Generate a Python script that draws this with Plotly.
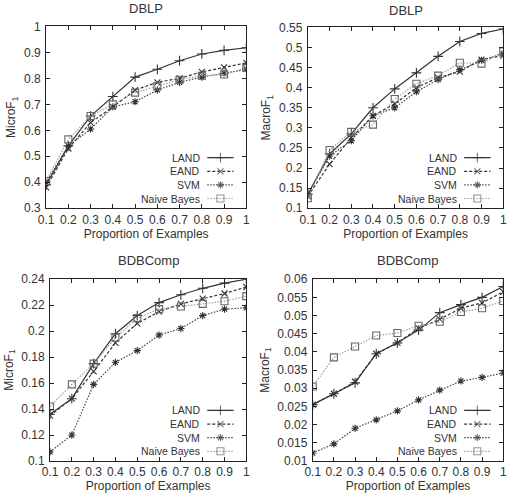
import plotly.graph_objects as go

proportions = [0.1, 0.2, 0.3, 0.4, 0.5, 0.6, 0.7, 0.8, 0.9, 1.0]
methods = ["LAND", "EAND", "SVM", "Naive Bayes"]

dblp_micro = {
    "LAND": [0.39, 0.54, 0.655, 0.73, 0.805, 0.835, 0.868, 0.894, 0.908, 0.918],
    "EAND": [0.38, 0.53, 0.63, 0.69, 0.755, 0.785, 0.80, 0.825, 0.842, 0.86],
    "SVM": [0.40, 0.54, 0.605, 0.69, 0.71, 0.755, 0.785, 0.805, 0.82, 0.835],
    "Naive Bayes": [0.405, 0.565, 0.655, 0.70, 0.745, 0.77, 0.795, 0.81, 0.815, 0.84],
}
dblp_macro = {
    "LAND": [0.135, 0.235, 0.285, 0.35, 0.397, 0.437, 0.478, 0.515, 0.535, 0.546],
    "EAND": [0.13, 0.21, 0.275, 0.33, 0.36, 0.40, 0.425, 0.44, 0.47, 0.48],
    "SVM": [0.135, 0.23, 0.268, 0.33, 0.35, 0.39, 0.42, 0.445, 0.468, 0.485],
    "Naive Bayes": [0.125, 0.245, 0.29, 0.308, 0.372, 0.41, 0.43, 0.462, 0.46, 0.49],
}
bdb_micro = {
    "LAND": [0.136, 0.148, 0.175, 0.198, 0.212, 0.222, 0.228, 0.233, 0.237, 0.24],
    "EAND": [0.135, 0.148, 0.169, 0.191, 0.206, 0.215, 0.221, 0.225, 0.229, 0.234],
    "SVM": [0.107, 0.12, 0.159, 0.176, 0.185, 0.197, 0.202, 0.212, 0.217, 0.218],
    "Naive Bayes": [0.142, 0.159, 0.175, 0.195, 0.21, 0.217, 0.219, 0.221, 0.223, 0.227],
}
bdb_macro = {
    "LAND": [0.0255, 0.0285, 0.0315, 0.0395, 0.0425, 0.046, 0.0508, 0.053, 0.055, 0.058],
    "EAND": [0.0255, 0.0285, 0.0318, 0.0395, 0.0425, 0.0465, 0.049, 0.052, 0.0535, 0.0565],
    "SVM": [0.0122, 0.0147, 0.019, 0.0213, 0.0238, 0.0268, 0.0295, 0.032, 0.033, 0.0342],
    "Naive Bayes": [0.0305, 0.0385, 0.0415, 0.0445, 0.0452, 0.0472, 0.0483, 0.051, 0.052, 0.054],
}

W, H = 517, 503
# panel boxes in pixels: (left, right, top, bottom)
panels = [
    dict(title="DBLP", ytitle="MicroF<sub>1</sub>", data=dblp_micro,
         yrange=[0.3, 1.0], ytick=0.1, box=(39, 244, 20, 207), tshift=8),
    dict(title="DBLP", ytitle="MacroF<sub>1</sub>", data=dblp_macro,
         yrange=[0.1, 0.55], ytick=0.05, box=(307, 507, 21, 207), tshift=7),
    dict(title="BDBComp", ytitle="MicroF<sub>1</sub>", data=bdb_micro,
         yrange=[0.1, 0.24], ytick=0.02, box=(43, 244, 280, 467), tshift=9),
    dict(title="BDBComp", ytitle="MacroF<sub>1</sub>", data=bdb_macro,
         yrange=[0.01, 0.06], ytick=0.005, box=(312, 507, 280, 467), tshift=9),
]

styles = {
    "LAND": dict(color="#333333", dash="solid", symbol="cross-thin-open", size=7, mcolor="#333333"),
    "EAND": dict(color="#333333", dash="3px,2px", symbol="x-thin-open", size=6, mcolor="#333333"),
    "SVM": dict(color="#444444", dash="1.5px,1.5px", symbol="asterisk-open", size=6, mcolor="#333333"),
    "Naive Bayes": dict(color="#a0a0a0", dash="1.5px,1.5px", symbol="square-open", size=7, mcolor="#666666"),
}

FONT = "Liberation Sans, Arial, sans-serif"
TXT = "#333333"
fig = go.Figure()
layout = dict(
    width=W, height=H, margin=dict(l=0, r=0, t=0, b=0),
    paper_bgcolor="white", plot_bgcolor="rgba(0,0,0,0)",
    font=dict(family=FONT, size=11, color=TXT),
    showlegend=False,
    annotations=[],
)

for i, p in enumerate(panels):
    n = i + 1
    L, R, T, B = p["box"]
    xdom = [L / W, R / W]
    ydom = [1 - B / H, 1 - T / H]
    xa = "x" if n == 1 else f"x{n}"
    ya = "y" if n == 1 else f"y{n}"
    for m in methods:
        s = styles[m]
        fig.add_trace(go.Scatter(
            x=proportions, y=p["data"][m], name=m, mode="lines+markers",
            xaxis=xa, yaxis=ya,
            line=dict(color=s["color"], dash=s["dash"], width=1.2),
            marker=dict(symbol=s["symbol"], size=s["size"],
                        line=dict(color=s["mcolor"], width=1.1), color=s["mcolor"]),
        ))
    axis_common = dict(showgrid=False, zeroline=False, showline=True, linecolor="#222222",
                       linewidth=1, mirror="ticks", ticks="inside", ticklen=4,
                       tickcolor="#222222", tickfont=dict(size=12, color=TXT))
    layout["xaxis" if n == 1 else f"xaxis{n}"] = dict(
        domain=xdom, anchor=ya, range=[0.1, 1.0],
        tickvals=proportions, ticktext=[("%g" % v) for v in proportions],
        title=dict(text="Proportion of Examples", font=dict(size=12, color=TXT), standoff=3),
        **axis_common)
    layout["yaxis" if n == 1 else f"yaxis{n}"] = dict(
        domain=ydom, anchor=xa, range=p["yrange"], dtick=p["ytick"], tick0=p["yrange"][0],
        ticklabelstandoff=2,
        title=dict(text=p["ytitle"], font=dict(size=12, color=TXT), standoff=5),
        **axis_common)
    layout["annotations"].append(dict(
        text=p["title"], xref="paper", yref="paper",
        x=(xdom[0] + xdom[1]) / 2, y=ydom[1], yshift=p["tshift"],
        xanchor="center", yanchor="bottom", showarrow=False,
        font=dict(size=13, color=TXT)))

    # custom gnuplot-style key: right-aligned labels, sample line to the right
    kx = 4 + n  # hidden overlay axes for the key
    kxa, kya = f"x{kx}", f"y{kx}"
    layout[f"xaxis{kx}"] = dict(overlaying=xa, anchor=kya, range=[L, R], visible=False, fixedrange=True)
    layout[f"yaxis{kx}"] = dict(overlaying=ya, anchor=kxa, range=[B, T], visible=False, fixedrange=True)
    line_x0, line_x1 = R - 40, R - 13
    for j, m in enumerate(methods):
        s = styles[m]
        ky = B - 10 - 14 * (3 - j)
        fig.add_trace(go.Scatter(
            x=[line_x0, (line_x0 + line_x1) / 2, line_x1], y=[ky, ky, ky],
            mode="lines+markers", xaxis=kxa, yaxis=kya, hoverinfo="skip",
            line=dict(color=s["color"], dash=s["dash"], width=1.2),
            marker=dict(symbol=s["symbol"], size=[0, s["size"], 0],
                        line=dict(color=s["mcolor"], width=1.1), color=s["mcolor"]),
        ))
        layout["annotations"].append(dict(
            text=m, xref=kxa, yref=kya, x=line_x0 - 5, y=ky,
            xanchor="right", yanchor="middle", showarrow=False,
            font=dict(size=10.5, color=TXT)))

fig.update_layout(**layout)
fig.write_html("out.html")
